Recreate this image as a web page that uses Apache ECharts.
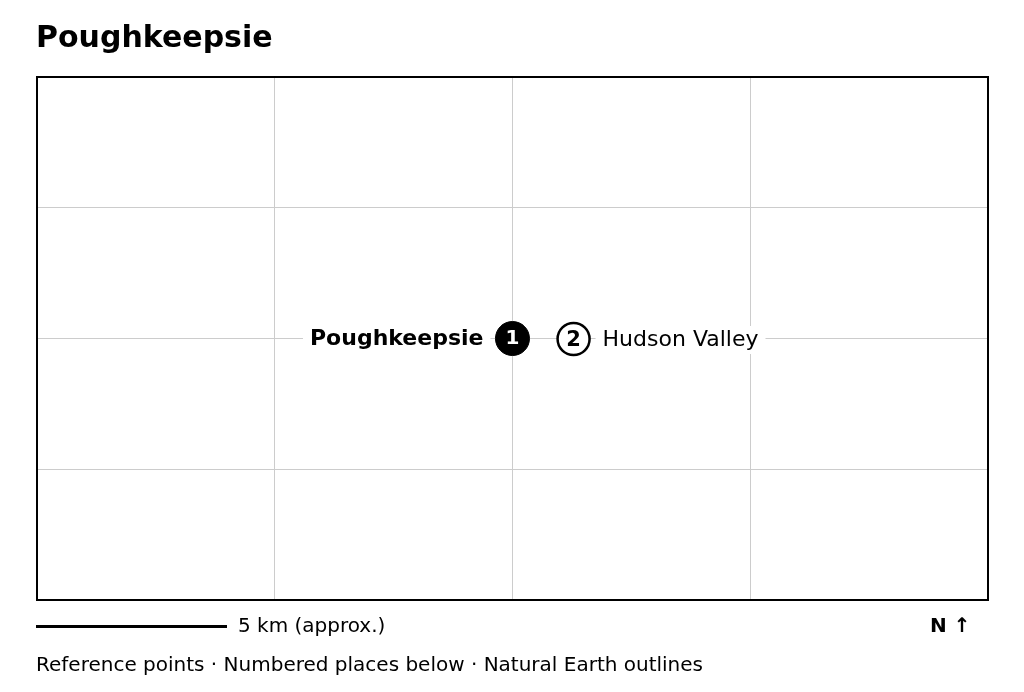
<!DOCTYPE html>
<html>
<head>
<meta charset="utf-8">
<style>
html, body { margin: 0; padding: 0; background: #fff; }
#main { width: 1024px; height: 692px; }
</style>
<script src="https://cdn.jsdelivr.net/npm/echarts@6/dist/echarts.min.js"></script>
</head>
<body>
<div id="main"></div>
<script>
var chartTitle = 'Poughkeepsie';
var placeNames = ['Poughkeepsie', 'Hudson Valley'];
var placeNumbers = ['1', '2'];
var placeX = [2.002, 2.259];
var placeY = [1.996, 1.992];
var scaleLabel = '5 km (approx.)';
var northLabel = 'N ↑';
var noteLabel = 'Reference points · Numbered places below · Natural Earth outlines';

var font = 'DejaVu Sans';

function makePoints() {
    var pts = [];
    for (var i = 0; i < placeNames.length; i++) {
        pts.push([placeX[i], placeY[i]]);
    }
    return pts;
}

/* name labels, white box hides the grid behind the text */
function nameData() {
    var pts = makePoints();
    var out = [];
    for (var i = 0; i < pts.length; i++) {
        out.push({
            value: pts[i],
            name: placeNames[i],
            label: {
                color: '#000',
                position: i === 0 ? 'left' : 'right',
                fontWeight: i === 0 ? 'bold' : 'normal',
                offset: i === 0 ? [-1, 1] : [1, 1]
            }
        });
    }
    return out;
}

/* numbered circles, first one is filled */
function markerData() {
    var pts = makePoints();
    var out = [];
    for (var i = 0; i < pts.length; i++) {
        out.push({
            value: pts[i],
            name: placeNumbers[i],
            symbolSize: i === 0 ? 34 : 32,
            itemStyle: { color: i === 0 ? '#000' : '#fff', borderWidth: i === 0 ? 1 : 2.5 },
            label: {
                color: i === 0 ? '#fff' : '#000',
                fontSize: i === 0 ? 20 : 21,
                offset: i === 0 ? [0, 0] : [0, 2]
            }
        });
    }
    return out;
}

var myChart = echarts.init(document.getElementById('main'));
var option = {
    animation: false,
    backgroundColor: '#fff',
    textStyle: { fontFamily: font },
    title: {
        text: chartTitle,
        left: 36,
        top: 24,
        padding: 0,
        textStyle: { fontFamily: font, fontSize: 30, fontWeight: 'bold', color: '#000' }
    },
    grid: {
        show: false,
        left: 36.5,
        right: 36.5,
        top: 76.5,
        bottom: 92.5
    },
    xAxis: {
        type: 'value', min: 0, max: 4, interval: 1,
        axisLine: { show: false }, axisTick: { show: false }, axisLabel: { show: false },
        splitLine: { show: true, lineStyle: { color: '#cccccc', width: 1 } }
    },
    yAxis: {
        type: 'value', min: 0, max: 4, interval: 1,
        axisLine: { show: false }, axisTick: { show: false }, axisLabel: { show: false },
        splitLine: { show: true, lineStyle: { color: '#cccccc', width: 1 } }
    },
    series: [
        {
            type: 'scatter',
            z: 3,
            symbolSize: 34,
            itemStyle: { color: 'transparent', opacity: 1 },
            silent: true,
            label: {
                show: true,
                distance: 4,
                formatter: '{b}',
                fontFamily: font,
                fontSize: 22,
                color: '#000',
                backgroundColor: '#fff',
                padding: [3, 7, 3, 7]
            },
            data: nameData()
        },
        {
            type: 'scatter',
            z: 4,
            itemStyle: { borderColor: '#000', borderWidth: 2, opacity: 1 },
            label: {
                show: true,
                position: 'inside',
                formatter: '{b}',
                fontFamily: font,
                fontSize: 20,
                fontWeight: 'bold'
            },
            data: markerData()
        }
    ],
    graphic: [
        {
            type: 'rect',
            z: 10,
            silent: true,
            shape: { x: 37, y: 77, width: 951, height: 523 },
            style: { fill: 'none', stroke: '#000', lineWidth: 2 }
        },
        {
            type: 'line',
            shape: { x1: 36, y1: 626.5, x2: 227, y2: 626.5 },
            style: { stroke: '#000', lineWidth: 3 }
        },
        {
            type: 'text', left: 238, top: 617,
            style: { text: scaleLabel, font: '20px "DejaVu Sans"', fill: '#000' }
        },
        {
            type: 'text', left: 930, top: 617,
            style: { text: northLabel, font: 'bold 20px "DejaVu Sans"', fill: '#000' }
        },
        {
            type: 'text', left: 36, top: 656,
            style: { text: noteLabel, font: '20px "DejaVu Sans"', fill: '#000' }
        }
    ]
};
myChart.setOption(option);
</script>
</body>
</html>
